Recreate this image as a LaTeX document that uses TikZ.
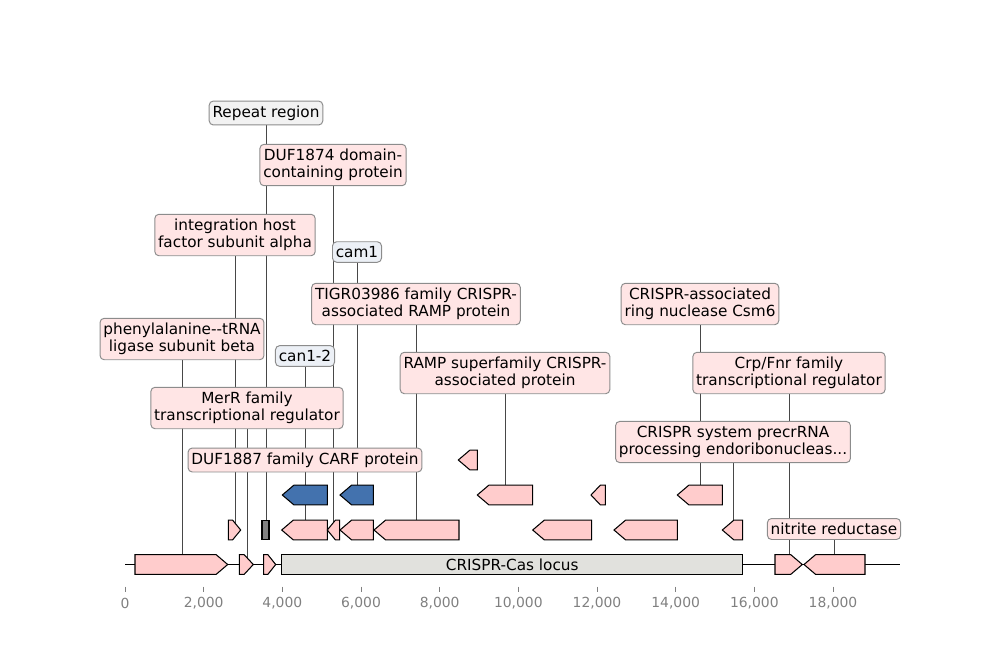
\documentclass[tikz,border=0pt]{standalone}
\usepackage{fontspec}
\setmainfont{DejaVu Sans}
\usetikzlibrary{positioning}
\pgfdeclarelayer{back}
\pgfsetlayers{back,main}
\definecolor{featpink}{HTML}{FFCCCC}
\definecolor{labpink}{HTML}{FFE5E5}
\definecolor{featblue}{HTML}{4372AE}
\definecolor{labblue}{HTML}{ECF0F6}
\definecolor{labgray}{HTML}{F2F2F2}
\definecolor{locusgray}{HTML}{E1E1DD}
\definecolor{repgray}{HTML}{808080}

\begin{document}
\begin{tikzpicture}[
    x=0.72pt, y=-0.72pt,
    font=\fontsize{11}{12.6}\selectfont,
    lab/.style={
        rounded corners=3pt, draw=black!45, fill=#1, line width=0.7pt,
        align=center, inner xsep=2.4pt, inner ysep=3.3pt},
    lab/.default=labpink,
    feat/.style={draw=black, line width=0.75pt, fill=#1},
    link/.style={draw=black!72, line width=0.55pt},
    tickmark/.style={draw=black!50, line width=0.6pt},
    ticklab/.style={text=black!50, inner sep=1pt, font=\fontsize{10}{12}\selectfont}
]
\path[use as bounding box] (0,0) rectangle (1000,660);

%% ══════════════════════════════ AXIS ══════════════════════════════
\foreach \k/\bp in {0/0, 1/{2,000}, 2/{4,000}, 3/{6,000}, 4/{8,000},
                    5/{10,000}, 6/{12,000}, 7/{14,000}, 8/{16,000}, 9/{18,000}}{
    \pgfmathsetmacro\px{125+\k*78.67}
    \draw[tickmark] (\px,586.5) -- (\px,591.5);
    \node[ticklab] (tick\k) at (\px,603) {\bp};
}

%% baseline of the record
\begin{pgfonlayer}{back}
\draw[line width=1.4pt] (125,564.5) -- (900,564.5);
\end{pgfonlayer}

%% ══════════════════════════════ FEATURES ══════════════════════════════
%% name / tail / tip / row centre / fill
\foreach \nm/\ta/\tb/\yc/\col in {
    phe/135/227.7/564.5/featpink,
    merr/239.3/253.3/564.5/featpink,
    bthree/263.7/275.7/564.5/featpink,
    crp/775/802.3/564.5/featpink,
    nir/865/804/564.5/featpink,
    ihf/228.3/240.7/530/featpink,
    carf/327.3/281.7/530/featpink,
    dufs/339.7/327.3/530/featpink,
    rone/373.3/340/530/featpink,
    tigr/459/374/530/featpink,
    rtwo/591.7/532.7/530/featpink,
    rthree/677.3/614/530/featpink,
    pre/742.7/722.3/530/featpink,
    can/327.3/282.3/495/featblue,
    cam/373.3/340/495/featblue,
    ramp/532.7/477.3/495/featpink,
    rfour/605.3/591/495/featpink,
    csm/722.3/677.3/495/featpink,
    rfive/477.3/458.3/460/featpink}{
    \pgfmathsetmacro\dd{sign(\tb-\ta)}
    \pgfmathsetmacro\hd{min(11.5,0.65*abs(\tb-\ta))}
    \pgfmathsetmacro\hb{\tb-\dd*\hd}
    \pgfmathsetmacro\mx{(\ta+\tb)/2}
    \draw[feat=\col] (\ta,\yc-9.8) -- (\hb,\yc-9.8) -- (\tb,\yc)
        -- (\hb,\yc+9.8) -- (\ta,\yc+9.8) -- cycle;
    \coordinate (f\nm) at (\mx,\yc);
}

%% repeat region and locus boxes
\draw[feat=repgray] (262,520.2) rectangle (269,539.8);
\coordinate (frep) at (265.5,530);
\draw[feat=locusgray] (281.7,554.7) rectangle (742.7,574.3);
\node (locus) at (512.2,564.5) {CRISPR-Cas locus};

%% ══════════════════════════════ LABELS ══════════════════════════════
\node[lab=labgray] (lrep) at (266,113) {Repeat region};
\node[lab] (ldufs) at (333,165) {DUF1874 domain-\\containing protein};
\node[lab] (lihf) at (235,235) {integration host\\factor subunit alpha};
\node[lab=labblue] (lcam) at (357,252) {cam1};
\node[lab] (ltigr) at (416,304) {TIGR03986 family CRISPR-\\associated RAMP protein};
\node[lab] (lphe) at (182,339) {phenylalanine{-}{-}tRNA\\ligase subunit beta};
\node[lab=labblue] (lcan) at (305,356) {can1-2};
\node[lab] (lramp) at (505,373) {RAMP superfamily CRISPR-\\associated protein};
\node[lab] (lmerr) at (247,408) {MerR family\\transcriptional regulator};
\node[lab] (lcarf) at (305,460) {DUF1887 family CARF protein};
\node[lab] (lcsm) at (700,304) {CRISPR-associated\\ring nuclease Csm6};
\node[lab] (lcrp) at (789,373) {Crp/Fnr family\\transcriptional regulator};
\node[lab] (lpre) at (733,442) {CRISPR system precrRNA\\processing endoribonucleas...};
\node[lab] (lnir) at (834,529) {nitrite reductase};

%% label -> feature links, kept behind everything
\begin{pgfonlayer}{back}
\foreach \l/\f in {lrep/frep, ldufs/fdufs, lihf/fihf, lcam/fcam,
                   ltigr/ftigr, lphe/fphe, lcan/fcan, lramp/framp,
                   lmerr/fmerr, lcarf/fcarf, lcsm/fcsm, lcrp/fcrp,
                   lpre/fpre, lnir/fnir}
    \draw[link] (\l) -- (\l |- \f);
\end{pgfonlayer}

\end{tikzpicture}
\end{document}
